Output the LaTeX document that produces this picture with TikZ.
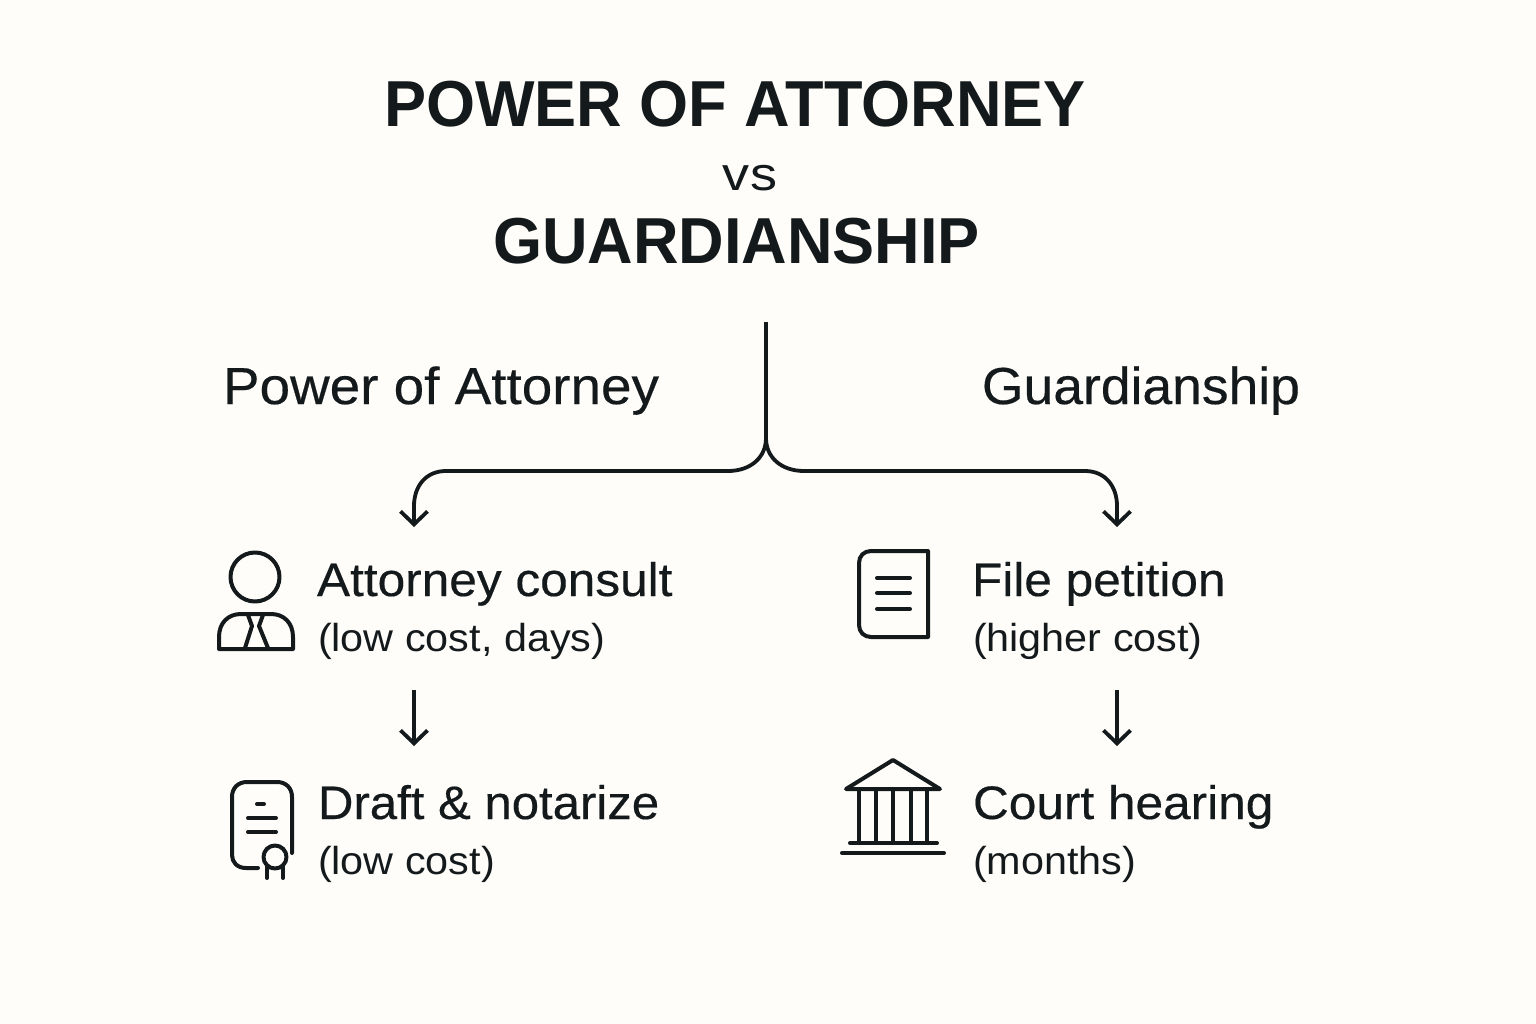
\documentclass[tikz,border=0pt]{standalone}
\usepackage{fontspec}
\setmainfont{Liberation Sans}
\newfontfamily\titlefont[FakeStretch=0.97]{Liberation Sans Bold}
\newfontfamily\vsfont[FakeStretch=1.15]{Liberation Sans}
\newfontfamily\medfont[FakeBold=0.35,FakeStretch=1.055]{Liberation Sans}
\newfontfamily\medfontb[FakeBold=0.35,FakeStretch=1.028]{Liberation Sans}
\newfontfamily\medfontc[FakeBold=0.35,FakeStretch=1.045]{Liberation Sans}
\newfontfamily\subfont[FakeStretch=1.06]{Liberation Sans}
\usetikzlibrary{arrows.meta}
\definecolor{ink}{HTML}{14191C}
\definecolor{paper}{HTML}{FEFDF9}
\tikzset{
  txt/.style={inner sep=0pt,outer sep=0pt,anchor=base west,text=ink},
  heavy/.style={txt,font=\titlefont\fontsize{65}{65}\selectfont},
  vs/.style={txt,anchor=base,font=\vsfont\fontsize{47}{47}\selectfont},
  head/.style={txt,font=\medfont\fontsize{52}{52}\selectfont},
  headb/.style={txt,font=\medfontb\fontsize{52}{52}\selectfont},
  item/.style={txt,font=\medfont\fontsize{47}{47}\selectfont},
  itemc/.style={txt,font=\medfontc\fontsize{47}{47}\selectfont},
  sub/.style={txt,font=\subfont\fontsize{39}{39}\selectfont},
  link/.style={draw=ink,line width=3.8pt},
  arrowlink/.style={link,-{Straight Barb[length=13pt,width=27pt,line width=3.8pt]}},
  icon/.style={draw=ink,line width=4pt,line cap=round,line join=round}
}
\begin{document}
\begin{tikzpicture}[x=1pt,y=-1pt]
\useasboundingbox[fill=paper] (0,0) rectangle (1536,1024);
\node[heavy] (title1) at (384,127) {POWER OF ATTORNEY};
\node[vs] (vsl) at (750,191) {vs};
\node[heavy] (title2) at (493,264) {GUARDIANSHIP};
\node[head] (hleft) at (223,404) {Power of Attorney};
\node[headb] (hright) at (982,404) {Guardianship};
\node[item] (a1) at (317,596) {Attorney consult};
\node[sub] (a1s) at (318,651) {(low cost, days)};
\node[itemc] (a2) at (318,819) {Draft \& notarize};
\node[sub] (a2s) at (318,874) {(low cost)};
\node[item] (b1) at (972,596) {File petition};
\node[sub] (b1s) at (973,651) {(higher cost)};
\node[item] (b2) at (973,819) {Court hearing};
\node[sub] (b2s) at (973,874) {(months)};
% connectors
\coordinate (top) at (766,322);
\coordinate (split) at (766,438);
\coordinate (lt) at (414,527);
\coordinate (rt) at (1117,527);
\coordinate (l1) at (414,690);
\coordinate (l2) at (414,746);
\coordinate (r1) at (1117,690);
\coordinate (r2) at (1117,746);
\draw[link] (top) -- (split);
\draw[arrowlink] (split) .. controls (766,458) and (750,471) .. (728,471) -- (446,471) .. controls (426,471) and (414,486) .. (414,506) -- (lt);
\draw[arrowlink] (split) .. controls (766,458) and (782,471) .. (804,471) -- (1085,471) .. controls (1105,471) and (1117,486) .. (1117,506) -- (rt);
\draw[arrowlink] (l1) -- (l2);
\draw[arrowlink] (r1) -- (r2);
% person
\draw[icon] (255,577) circle (24.5);
\draw[icon] (219,649) -- (293,649) -- (293,637) .. controls (293,623) and (284,614) .. (271,614) -- (241,614) .. controls (228,614) and (219,623) .. (219,637) -- cycle;
\draw[icon] (248,615) -- (252,626) -- (245,648);
\draw[icon] (263,615) -- (259,626) -- (268,648);
% certificate
\draw[icon] (258,868) -- (246,868) .. controls (237,868) and (232,862) .. (232,855) -- (232,797) .. controls (232,788) and (238,782) .. (247,782) -- (277,782) .. controls (286,782) and (292,788) .. (292,797) -- (292,853);
\draw[icon] (257,804) -- (264,804);
\draw[icon] (248,818) -- (276,818);
\draw[icon] (248,832) -- (276,832);
\draw[icon] (275,857) circle (11.5);
\draw[icon] (267,867) -- (267,878);
\draw[icon] (283,867) -- (283,878);
% document
\draw[icon] (928,551) -- (871,551) .. controls (864,551) and (859,556) .. (859,563) -- (859,625) .. controls (859,632) and (864,637) .. (871,637) -- (928,637) -- cycle;
\draw[icon] (877,578) -- (910,578);
\draw[icon] (877,593) -- (910,593);
\draw[icon] (877,609) -- (910,609);
% courthouse
\draw[icon] (893,760) -- (940,789) -- (846,789) -- cycle;
\foreach \cx in {859,876,893,911,927} \draw[icon] (\cx,789) -- (\cx,843);
\draw[icon] (850,843) -- (937,843);
\draw[icon] (842,853) -- (944,853);
\end{tikzpicture}
\end{document}
